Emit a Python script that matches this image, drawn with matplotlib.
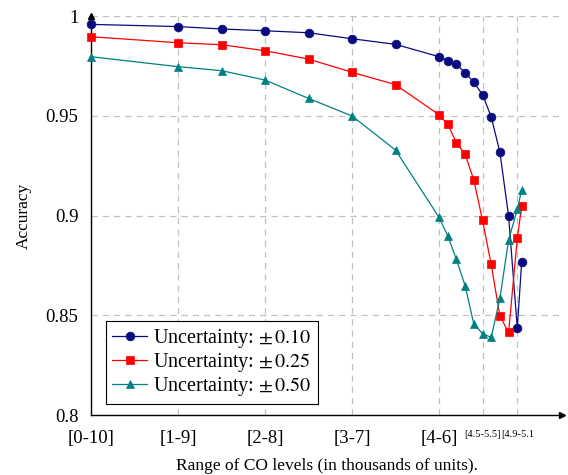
import matplotlib
matplotlib.use("Agg")
import matplotlib.pyplot as plt

# Data: x = lower bound of CO range (thousands of units)
x = [0, 1, 1.5, 2, 2.5, 3, 3.5, 4.0, 4.1, 4.2, 4.3, 4.4, 4.5, 4.6, 4.7, 4.8, 4.9, 4.95]
acc_010 = [0.9958, 0.9947, 0.9935, 0.9926, 0.9916, 0.9886, 0.9858, 0.9796, 0.9776, 0.9758,
           0.9716, 0.9668, 0.9606, 0.9495, 0.9317, 0.8997, 0.8435, 0.8765]
acc_025 = [0.9896, 0.9866, 0.9856, 0.9826, 0.9784, 0.9718, 0.9656, 0.9505, 0.9457, 0.9365,
           0.9307, 0.9178, 0.8976, 0.8755, 0.8496, 0.8414, 0.8886, 0.9046]
acc_050 = [0.9796, 0.9746, 0.9726, 0.9679, 0.9587, 0.9499, 0.9328, 0.8991, 0.8899, 0.8780,
           0.8648, 0.8456, 0.8408, 0.8389, 0.8585, 0.8877, 0.9031, 0.9128]
series_labels = [r"Uncertainty: $\pm\,0.10$", r"Uncertainty: $\pm\,0.25$", r"Uncertainty: $\pm\,0.50$"]

xticks_main = [0, 1, 2, 3, 4]
xticklabels_main = ["[0-10]", "[1-9]", "[2-8]", "[3-7]", "[4-6]"]
xticks_small = [4.5, 4.9]
xticklabels_small = ["[4.5-5.5]", "[4.9-5.1"]
yticks = [0.8, 0.85, 0.9, 0.95, 1.0]
yticklabels = ["0.8", "0.85", "0.9", "0.95", "1"]

plt.rcParams["font.family"] = ["Liberation Serif", "DejaVu Serif"]
plt.rcParams["mathtext.fontset"] = "stix"

fig = plt.figure(figsize=(5.68, 4.75), dpi=100)
ax = fig.add_axes([91/568, 1-415/475, (562-91)/568, (415-16)/475])

ax.set_xlim(0, (562-91)/87)
ax.set_ylim(0.8, 1.0)

styles = [dict(color="#0b0b80", marker="o", markersize=6.3),
          dict(color="#ff0000", marker="s", markersize=6.0),
          dict(color="#008080", marker="^", markersize=6.0)]
for ys, lab, st in zip([acc_010, acc_025, acc_050], series_labels, styles):
    ax.plot(x, ys, lw=0.9, label=lab, markeredgewidth=0.5, clip_on=False, zorder=3, **st)

# grid
for gx in xticks_main + xticks_small:
    ax.axvline(gx, color="#c0c0c0", lw=0.9, ls=(0, (5, 4)), zorder=1)
for gy in yticks[1:]:
    ax.axhline(gy, color="#c0c0c0", lw=0.9, ls=(0, (5, 4)), zorder=1)

ax.spines["top"].set_visible(False)
ax.spines["right"].set_visible(False)
ax.spines["left"].set_linewidth(1.0)
ax.spines["bottom"].set_linewidth(1.0)
ax.plot(1, 0, ">k", transform=ax.transAxes, clip_on=False, markersize=4)
ax.plot(0, 1, "^k", transform=ax.transAxes, clip_on=False, markersize=4)

ax.set_xticks(xticks_main + xticks_small)
labels = xticklabels_main + xticklabels_small
ax.set_xticklabels(labels)
for i, t in enumerate(ax.get_xticklabels()):
    if i >= len(xticks_main):
        t.set_fontsize(7.5)
    else:
        t.set_fontsize(13.5)
    t.set_verticalalignment("top")
ax.set_yticks(yticks)
ax.set_yticklabels(yticklabels, fontsize=13.5)
ax.tick_params(axis="both", length=3, width=0.6, color="#c0c0c0", direction="in")
ax.tick_params(axis="x", pad=11)
ax.tick_params(axis="y", pad=9)

ax.set_xlabel("Range of CO levels (in thousands of units).", fontsize=12.5, labelpad=8)
ax.set_ylabel("Accuracy", fontsize=12.5, labelpad=10)

leg = ax.legend(loc="lower left", bbox_to_anchor=(0.032, 0.027), fontsize=14.5,
                frameon=True, fancybox=False, edgecolor="black", framealpha=1,
                handlelength=1.75, handletextpad=0.3, borderpad=0.3, labelspacing=0.05,
                borderaxespad=0)
leg.get_frame().set_linewidth(0.8)

fig.savefig("out.png", dpi=100)
